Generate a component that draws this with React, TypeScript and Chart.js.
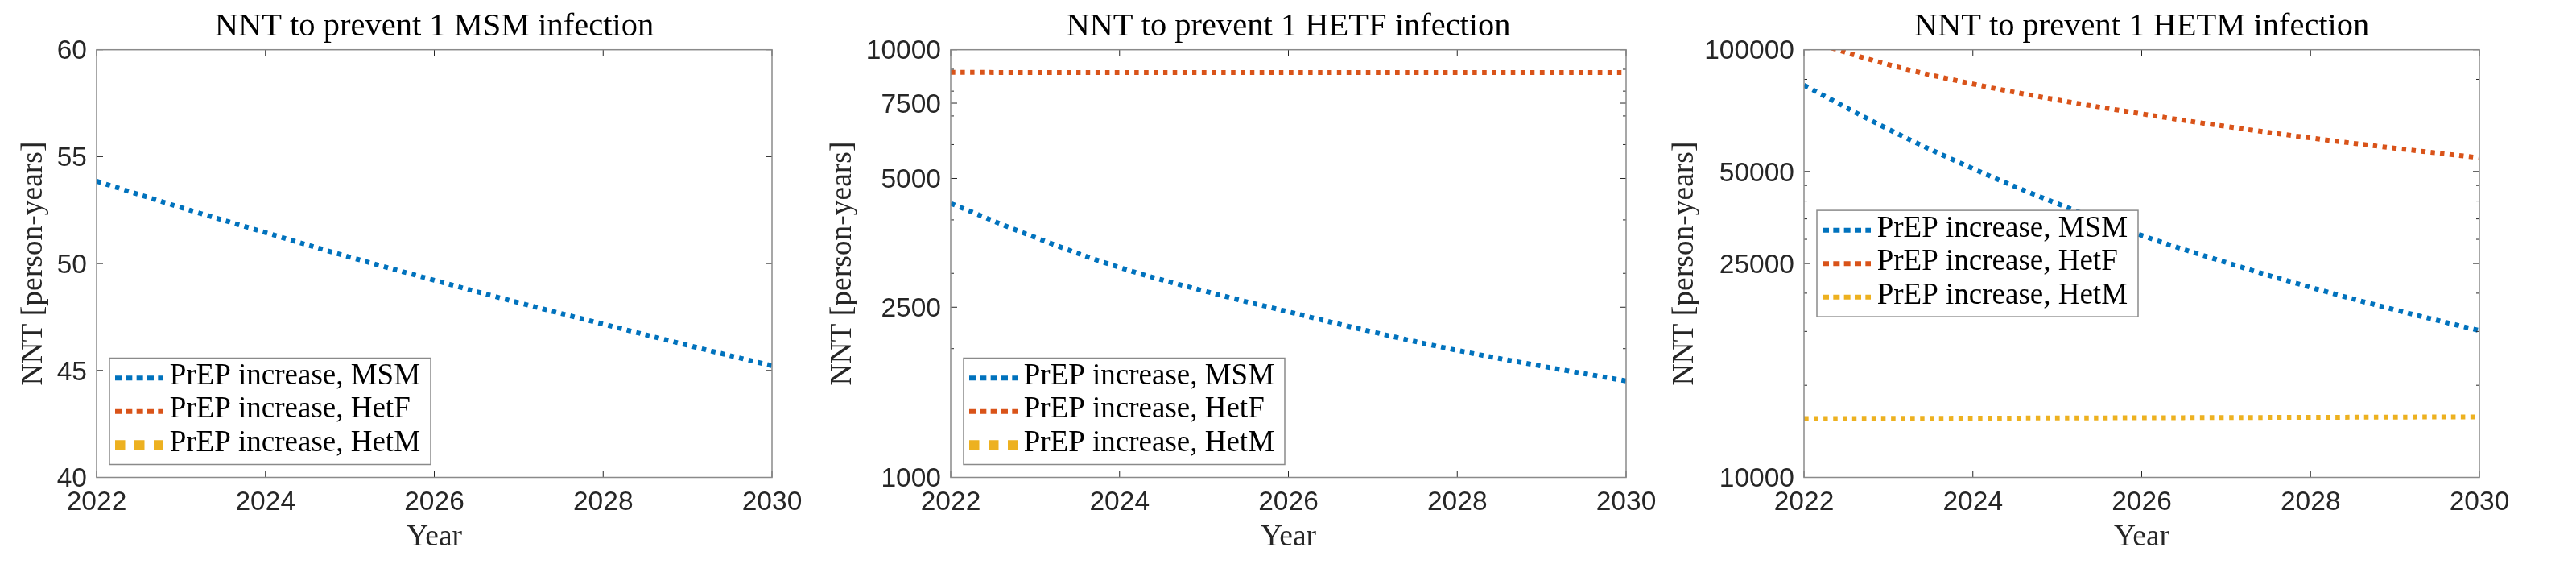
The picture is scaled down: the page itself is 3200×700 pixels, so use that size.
import React, { useEffect, useRef } from 'react';
import { Chart, registerables } from 'chart.js';

Chart.register(...registerables);

// ---------------- data ----------------
const years = [2022, 2023, 2024, 2025, 2026, 2027, 2028, 2029, 2030];
const xTicks = [2022, 2024, 2026, 2028, 2030];

const seriesLabels = ['PrEP increase, MSM', 'PrEP increase, HetF', 'PrEP increase, HetM'];
const seriesColors = ['#0072BD', '#D95319', '#EDB120'];

const titles = [
  'NNT to prevent 1 MSM infection',
  'NNT to prevent 1 HETF infection',
  'NNT to prevent 1 HETM infection',
];
const xLabel = 'Year';
const yLabel = 'NNT [person-years]';

// Panel 1: MSM infections (linear axis)
const msmNNT_MSM = [53.85, 52.62, 51.45, 50.3, 49.22, 48.17, 47.17, 46.18, 45.22];
const msmNNT_HetF: number[] = [];
const msmNNT_HetM: number[] = [];
const msmYTicks = [40, 45, 50, 55, 60];
const msmYTickLabels = ['40', '45', '50', '55', '60'];
const msmYMinor: number[] = [];

// Panel 2: HETF infections (log axis)
const hetfNNT_MSM = [4372, 3640, 3097, 2729, 2439, 2188, 1982, 1820, 1681];
const hetfNNT_HetF = [8850, 8849, 8848, 8847, 8846, 8846, 8845, 8845, 8844];
const hetfNNT_HetM: number[] = [];
const hetfYTicks = [1000, 2500, 5000, 7500, 10000];
const hetfYTickLabels = ['1000', '2500', '5000', '7500', '10000'];
const hetfYMinor = [2000, 3000, 4000, 6000, 7000, 8000, 9000];

// Panel 3: HETM infections (log axis, tick labels as printed in the figure)
const hetmNNT_MSM = [191400, 137400, 102200, 78500, 61800, 50400, 41800, 35300, 30200];
const hetmNNT_HetF = [270000, 223500, 193200, 171400, 154300, 140300, 128700, 119100, 110900];
const hetmNNT_HetM = [15560, 15590, 15610, 15640, 15660, 15690, 15710, 15740, 15770];
const hetmYTicks = [10000, 50000, 100000, 250000];
const hetmYTickLabels = ['10000', '25000', '50000', '100000'];
const hetmYMinor = [20000, 30000, 40000, 60000, 70000, 80000, 90000, 200000];

// ---------------- layout / style ----------------
const CANVAS_H = 700;
const AREA_W = 839;
const RIGHT_PAD = 101;
const AREA_TOP = 61.7;
const AREA_BOTTOM = 592.5;

const TICK_FONT = '"Liberation Sans", Arial, sans-serif';
const TEXT_FONT = '"Liberation Serif", "Times New Roman", serif';
const AXIS_COLOR = '#262626';
const BOX_COLOR = '#8a8a8a';

type Panel = {
  axisLeft: number;
  areaLeft: number;
  title: string;
  yType: 'linear' | 'logarithmic';
  yMin: number;
  yMax: number;
  yTicks: number[];
  yTickLabels: string[];
  yMinor: number[];
  series: number[][];
  widths: number[];
  legendDash: number[][];
  legendPos: 'southwest' | 'west';
  yLabelGap: number;
};

const NORMAL_DASH = [5.5, 6.5];
const LEGEND_DASH = [8, 5.33];
const THICK_DASH = [12.5, 11.5];

const panels: Panel[] = [
  {
    axisLeft: 120,
    areaLeft: 120,
    title: titles[0],
    yType: 'linear',
    yMin: 40,
    yMax: 60,
    yTicks: msmYTicks,
    yTickLabels: msmYTickLabels,
    yMinor: msmYMinor,
    series: [msmNNT_MSM, msmNNT_HetF, msmNNT_HetM],
    widths: [6, 6, 12],
    legendDash: [LEGEND_DASH, LEGEND_DASH, THICK_DASH],
    legendPos: 'southwest',
    yLabelGap: 68,
  },
  {
    axisLeft: 1181,
    areaLeft: 180,
    title: titles[1],
    yType: 'logarithmic',
    yMin: 1000,
    yMax: 10000,
    yTicks: hetfYTicks,
    yTickLabels: hetfYTickLabels,
    yMinor: hetfYMinor,
    series: [hetfNNT_MSM, hetfNNT_HetF, hetfNNT_HetM],
    widths: [6, 6, 12],
    legendDash: [LEGEND_DASH, LEGEND_DASH, THICK_DASH],
    legendPos: 'southwest',
    yLabelGap: 124.3,
  },
  {
    axisLeft: 2241,
    areaLeft: 180,
    title: titles[2],
    yType: 'logarithmic',
    yMin: 10000,
    yMax: 250000,
    yTicks: hetmYTicks,
    yTickLabels: hetmYTickLabels,
    yMinor: hetmYMinor,
    series: [hetmNNT_MSM, hetmNNT_HetF, hetmNNT_HetM],
    widths: [6, 6, 6],
    legendDash: [LEGEND_DASH, LEGEND_DASH, LEGEND_DASH],
    legendPos: 'west',
    yLabelGap: 138,
  },
];

function makeDecorPlugin(panel: Panel) {
  return {
    id: 'matlabDecor',
    afterDatasetsDraw(chart: any) {
      const ctx: CanvasRenderingContext2D = chart.ctx;
      const a = chart.chartArea;
      const xs = chart.scales.x;
      const ys = chart.scales.y;
      ctx.save();
      // tick marks (inside, on all four sides)
      ctx.strokeStyle = AXIS_COLOR;
      ctx.lineWidth = 1;
      ctx.setLineDash([]);
      ctx.beginPath();
      xTicks.forEach((v) => {
        const px = xs.getPixelForValue(v);
        ctx.moveTo(px, a.bottom);
        ctx.lineTo(px, a.bottom - 8);
        ctx.moveTo(px, a.top);
        ctx.lineTo(px, a.top + 8);
      });
      panel.yTicks.forEach((v) => {
        const py = ys.getPixelForValue(v);
        ctx.moveTo(a.left, py);
        ctx.lineTo(a.left + 8, py);
        ctx.moveTo(a.right, py);
        ctx.lineTo(a.right - 8, py);
      });
      panel.yMinor.forEach((v) => {
        const py = ys.getPixelForValue(v);
        ctx.moveTo(a.left, py);
        ctx.lineTo(a.left + 4, py);
        ctx.moveTo(a.right, py);
        ctx.lineTo(a.right - 4, py);
      });
      ctx.stroke();
      // box
      ctx.strokeStyle = BOX_COLOR;
      ctx.lineWidth = 1.5;
      ctx.strokeRect(a.left, a.top, a.right - a.left, a.bottom - a.top);

      // legend
      const bw = 399;
      const bh = 132;
      const bx = a.left + 16;
      const by = panel.legendPos === 'southwest' ? a.bottom - 16 - bh : (a.top + a.bottom) / 2 - bh / 2;
      ctx.fillStyle = '#ffffff';
      ctx.fillRect(bx, by, bw, bh);
      ctx.strokeStyle = BOX_COLOR;
      ctx.lineWidth = 1.5;
      ctx.strokeRect(bx, by, bw, bh);
      chart.data.datasets.forEach((ds: any, i: number) => {
        const rowY = by + 24.7 + i * 41.5;
        ctx.save();
        ctx.strokeStyle = ds.borderColor;
        ctx.lineWidth = ds.borderWidth;
        ctx.lineCap = 'butt';
        ctx.setLineDash(panel.legendDash[i]);
        ctx.beginPath();
        ctx.moveTo(bx + 7, rowY);
        ctx.lineTo(bx + 67, rowY);
        ctx.stroke();
        ctx.restore();
        ctx.fillStyle = '#000000';
        ctx.font = `37px ${TEXT_FONT}`;
        ctx.textAlign = 'left';
        ctx.textBaseline = 'alphabetic';
        ctx.fillText(ds.label, bx + 74.7, by + 32.4 + i * 41.5);
      });
      ctx.restore();
    },
    afterDraw(chart: any) {
      const ctx: CanvasRenderingContext2D = chart.ctx;
      const a = chart.chartArea;
      const cx = (a.left + a.right) / 2;
      ctx.save();
      ctx.textAlign = 'center';
      ctx.textBaseline = 'alphabetic';
      ctx.fillStyle = '#000000';
      ctx.font = `40.5px ${TEXT_FONT}`;
      ctx.fillText(panel.title, cx, 44);
      ctx.fillStyle = AXIS_COLOR;
      ctx.font = `37.5px ${TEXT_FONT}`;
      ctx.fillText(xLabel, cx, 677);
      ctx.translate(a.left - panel.yLabelGap, (a.top + a.bottom) / 2);
      ctx.rotate(-Math.PI / 2);
      ctx.fillText(yLabel, 0, 0);
      ctx.restore();
    },
  };
}

function makeChart(canvas: HTMLCanvasElement, panel: Panel) {
  const datasets = panel.series.map((vals, i) => ({
    label: seriesLabels[i],
    data: vals.map((v, k) => ({ x: years[k], y: v })),
    borderColor: seriesColors[i],
    backgroundColor: seriesColors[i],
    borderWidth: panel.widths[i],
    borderDash: NORMAL_DASH,
    borderCapStyle: 'butt' as const,
    pointRadius: 0,
    pointHoverRadius: 0,
    tension: 0.4,
    fill: false,
    clip: 0,
  }));
  const labelFor = (v: number) => {
    const idx = panel.yTicks.indexOf(v);
    return idx >= 0 ? panel.yTickLabels[idx] : '';
  };
  return new Chart(canvas, {
    type: 'line',
    data: { datasets },
    plugins: [makeDecorPlugin(panel)],
    options: {
      animation: false,
      responsive: false,
      maintainAspectRatio: false,
      events: [],
      layout: {
        padding: { left: 0, right: RIGHT_PAD, top: AREA_TOP, bottom: 0 },
      },
      elements: { line: { capBezierPoints: false } },
      plugins: {
        legend: { display: false },
        title: { display: false },
        tooltip: { enabled: false },
      },
      scales: {
        x: {
          type: 'linear',
          min: 2022,
          max: 2030,
          grid: { display: false, drawTicks: false },
          border: { display: false },
          afterBuildTicks: (s: any) => {
            s.ticks = xTicks.map((v) => ({ value: v }));
          },
          afterFit: (s: any) => {
            s.height = CANVAS_H - AREA_BOTTOM;
          },
          ticks: {
            autoSkip: false,
            maxRotation: 0,
            minRotation: 0,
            padding: 11,
            color: AXIS_COLOR,
            font: { family: TICK_FONT, size: 33.5 },
            callback: (v: any) => String(v),
          },
        },
        y: {
          type: panel.yType,
          min: panel.yMin,
          max: panel.yMax,
          grid: { display: false, drawTicks: false },
          border: { display: false },
          afterBuildTicks: (s: any) => {
            s.ticks = panel.yTicks.map((v) => ({ value: v, major: false }));
          },
          afterFit: (s: any) => {
            s.width = panel.areaLeft;
          },
          ticks: {
            autoSkip: false,
            padding: 12,
            labelOffset: 2.5,
            color: AXIS_COLOR,
            font: { family: TICK_FONT, size: 33.5 },
            callback: (v: any) => labelFor(Number(v)),
          },
        },
      },
    } as any,
  });
}

function PanelChart({ panel }: { panel: Panel }) {
  const ref = useRef<HTMLCanvasElement | null>(null);
  const w = panel.areaLeft + AREA_W + RIGHT_PAD;
  useEffect(() => {
    if (!ref.current) return;
    const chart = makeChart(ref.current, panel);
    return () => chart.destroy();
  }, [panel]);
  return (
    <canvas
      ref={ref}
      width={w}
      height={CANVAS_H}
      style={{
        position: 'absolute',
        left: panel.axisLeft - panel.areaLeft,
        top: 0,
        width: w,
        height: CANVAS_H,
      }}
    />
  );
}

export default function App() {
  useEffect(() => {
    document.body.style.margin = '0';
    document.body.style.background = '#ffffff';
  }, []);
  return (
    <div
      style={{
        position: 'absolute',
        left: 0,
        top: 0,
        width: 3200,
        height: 700,
        background: '#ffffff',
        overflow: 'hidden',
      }}
    >
      {panels.map((p, i) => (
        <PanelChart key={i} panel={p} />
      ))}
    </div>
  );
}
